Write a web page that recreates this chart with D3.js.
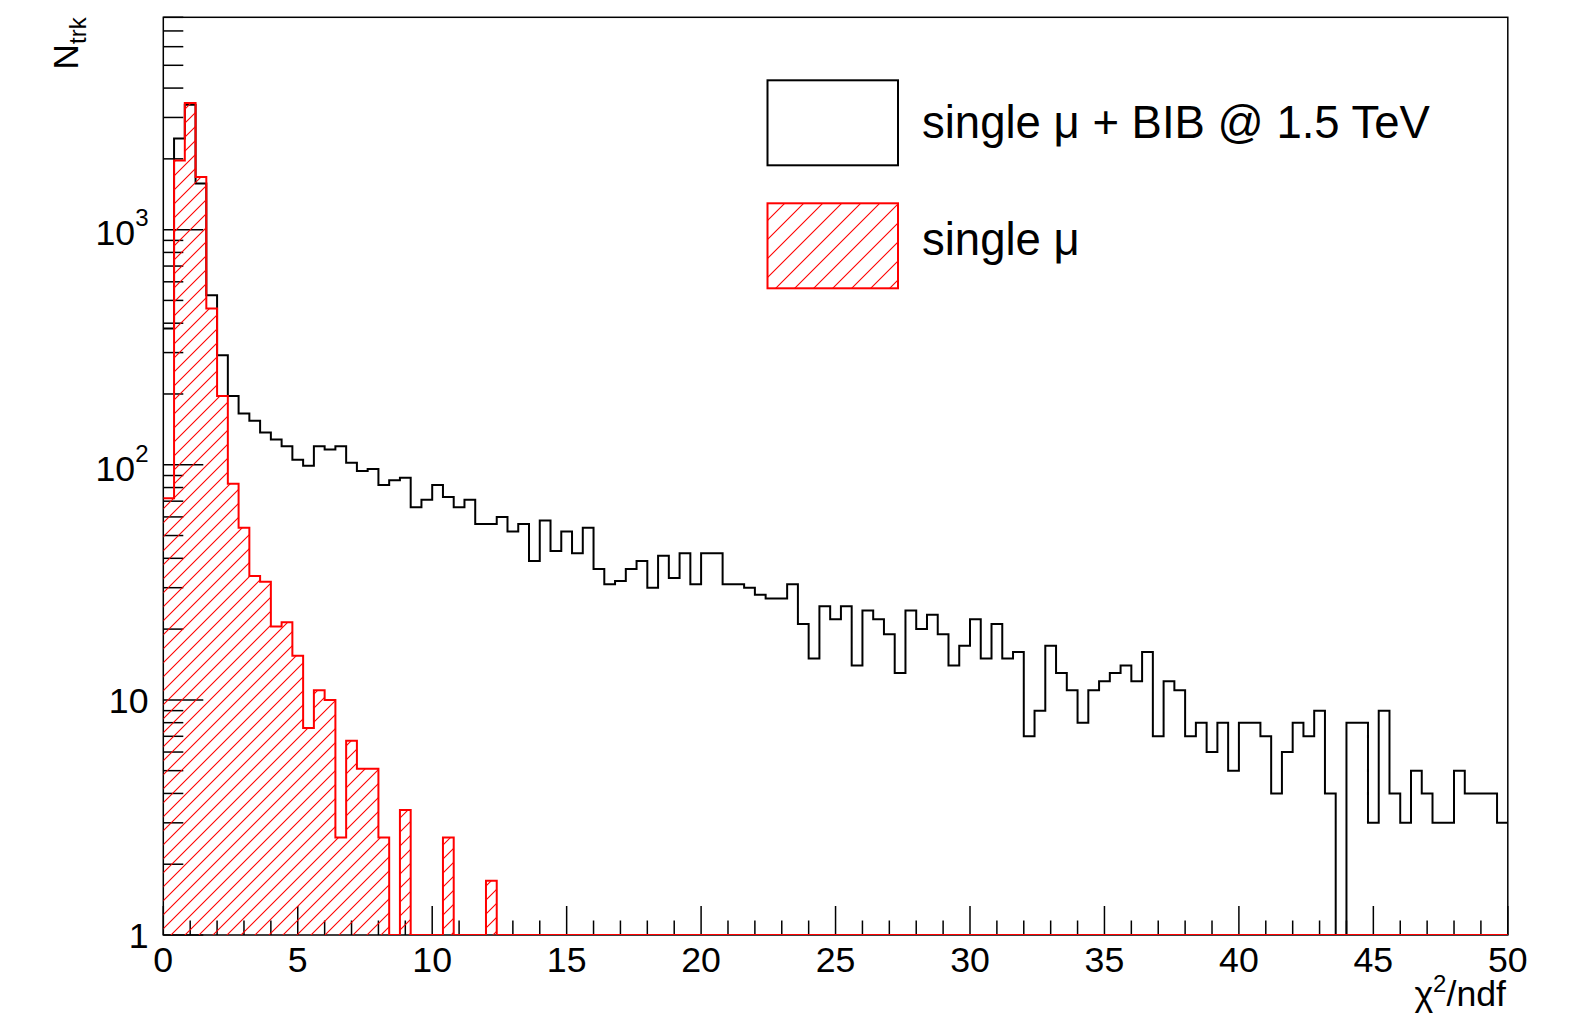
<!DOCTYPE html>
<html>
<head>
<meta charset="utf-8">
<script src="https://cdn.jsdelivr.net/npm/d3@7"></script>
<style>
  html, body { margin: 0; padding: 0; background: #fff; }
  svg { display: block; }
  text { font-family: "Liberation Sans", Arial, Helvetica, sans-serif; fill: #000; }
</style>
</head>
<body>
<svg id="chart" width="1573" height="1021"></svg>
<script>
// Histogram binning: 125 bins of 0.4 in chi2/ndf from 0 to 50
const xRange = [0, 50];
const binWidth = 0.4;
const yRange = [1, 8000];

// Track counts per bin, single muon + beam-induced background at 1.5 TeV
const bibCounts = [
  380, 2440, 3400, 1570, 526, 292, 196, 165, 154, 137,
  128, 120, 105, 99, 120, 116, 120, 102, 94, 96,
  82, 86, 88, 66, 71, 82, 73, 66, 71, 56,
  56, 60, 52, 56, 39, 58, 43, 52, 42, 54,
  36, 31, 32, 36, 39, 30, 41, 33, 42, 31,
  42, 42, 31, 31, 30, 28, 27, 27, 31, 21,
  15, 25, 22, 25, 14, 24, 22, 19, 13, 24,
  20, 23, 19, 14, 17, 22, 15, 21, 15, 16,
  7, 9, 17, 13, 11, 8, 11, 12, 13, 14,
  12, 16, 7, 12, 11, 7, 8, 6, 8, 5,
  8, 8, 7, 4, 6, 8, 7, 9, 4, 0,
  8, 8, 3, 9, 4, 3, 5, 4, 3, 3,
  5, 4, 4, 4, 3
];

// Track counts per bin, single muon only (scaled)
const muonCounts = [
  72, 1970, 3460, 1675, 462, 196, 83, 54, 33.6, 31.8,
  20.5, 21.4, 15.4, 7.6, 11.0, 10.0, 2.6, 6.7, 5.1, 5.1,
  2.6, 0, 3.4, 0, 0, 0, 2.6, 0, 0, 0,
  1.7, 0, 0, 0, 0, 0, 0, 0, 0, 0,
  0, 0, 0, 0, 0, 0, 0, 0, 0, 0,
  0, 0, 0, 0, 0, 0, 0, 0, 0, 0,
  0, 0, 0, 0, 0, 0, 0, 0, 0, 0,
  0, 0, 0, 0, 0, 0, 0, 0, 0, 0,
  0, 0, 0, 0, 0, 0, 0, 0, 0, 0,
  0, 0, 0, 0, 0, 0, 0, 0, 0, 0,
  0, 0, 0, 0, 0, 0, 0, 0, 0, 0,
  0, 0, 0, 0, 0, 0, 0, 0, 0, 0,
  0, 0, 0, 0, 0
];

// Axis ticks and labels
const xMajorTicks = [0, 5, 10, 15, 20, 25, 30, 35, 40, 45, 50];
const xTickLabels = ["0", "5", "10", "15", "20", "25", "30", "35", "40", "45", "50"];
const yMajorTicks = [1, 10, 100, 1000];
const yTickBase = ["1", "10", "10", "10"];
const yTickExp = ["", "", "2", "3"];

const legendLabels = ["single \u03bc + BIB @ 1.5 TeV", "single \u03bc"];
const xTitle = { main: "\u03c7", sup: "2", rest: "/ndf" };
const yTitle = { main: "N", sub: "trk" };

// ---------------------------------------------------------------
const frame = { left: 163.3, right: 1507.8, top: 17.3, bottom: 935 };
const svg = d3.select("#chart");

const x = d3.scaleLinear().domain(xRange).range([frame.left, frame.right]);
const y = d3.scaleLog().domain(yRange).range([frame.bottom, frame.top]);

const defs = svg.append("defs");
defs.append("clipPath").attr("id", "plotClip")
  .append("rect")
  .attr("x", frame.left).attr("y", frame.top)
  .attr("width", frame.right - frame.left)
  .attr("height", frame.bottom - frame.top);

function hatch(id, step) {
  const p = defs.append("pattern").attr("id", id)
    .attr("patternUnits", "userSpaceOnUse")
    .attr("width", step).attr("height", step);
  p.append("path")
    .attr("d", `M0,${step} L${step},0 M${-step / 2},${step / 2} L${step / 2},${-step / 2} M${step / 2},${step * 1.5} L${step * 1.5},${step / 2}`)
    .attr("stroke", "#ff0000").attr("stroke-width", 1.1).attr("fill", "none");
}
hatch("hatchPlot", 14);
hatch("hatchLegend", 19);

// Frame
svg.append("rect")
  .attr("x", frame.left).attr("y", frame.top)
  .attr("width", frame.right - frame.left)
  .attr("height", frame.bottom - frame.top)
  .attr("fill", "none").attr("stroke", "#000").attr("stroke-width", 1.5);

// X axis ticks (inside the frame)
const xTicksG = svg.append("g").attr("stroke", "#000").attr("stroke-width", 1.5);
d3.range(xRange[0], xRange[1] + 0.001, 1).forEach(v => {
  const major = v % 5 === 0;
  const len = major ? 29 : 14.5;
  xTicksG.append("line")
    .attr("x1", x(v)).attr("x2", x(v))
    .attr("y1", frame.bottom).attr("y2", frame.bottom - len);
});
svg.append("g").selectAll("text").data(xMajorTicks).join("text")
  .attr("x", d => x(d)).attr("y", 971.5)
  .attr("text-anchor", "middle")
  .attr("font-size", 35.7)
  .text((d, i) => xTickLabels[i]);

// Y axis ticks (log): decades long, 2..9 short
const yTicksG = svg.append("g").attr("stroke", "#000").attr("stroke-width", 1.5);
const yMinor = [];
[1, 10, 100, 1000].forEach(dec => {
  for (let m = 2; m <= 9; m++) {
    const v = dec * m;
    if (v <= yRange[1]) yMinor.push(v);
  }
});
yMajorTicks.forEach(v => {
  yTicksG.append("line")
    .attr("x1", frame.left).attr("x2", frame.left + 40)
    .attr("y1", y(v)).attr("y2", y(v));
});
yMinor.forEach(v => {
  yTicksG.append("line")
    .attr("x1", frame.left).attr("x2", frame.left + 20)
    .attr("y1", y(v)).attr("y2", y(v));
});
const yLab = svg.append("g").selectAll("text").data(yMajorTicks).join("text")
  .attr("x", 148.5)
  .attr("y", (d, i) => y(d) + 12.8 + (yTickExp[i] ? 3 : 0))
  .attr("text-anchor", "end")
  .attr("font-size", 35.7);
yLab.append("tspan").text((d, i) => yTickBase[i]);
yLab.append("tspan")
  .attr("font-size", 24)
  .attr("dy", (d, i) => yTickExp[i] ? -19 : 0)
  .text((d, i) => yTickExp[i]);

// Histogram paths
function stepLine(counts) {
  const yv = c => y(Math.max(c, yRange[0]));
  let d = `M${x(xRange[0])},${yv(counts[0])}`;
  counts.forEach((c, i) => {
    const xr = x(xRange[0] + (i + 1) * binWidth);
    d += `H${xr}`;
    if (i + 1 < counts.length) d += `V${yv(counts[i + 1])}`;
  });
  return d;
}
function stepArea(counts) {
  const x0 = x(xRange[0]);
  const x1 = x(xRange[0] + counts.length * binWidth);
  return `M${x0},${frame.bottom}V${y(Math.max(counts[0], yRange[0]))}` +
    stepLine(counts).replace(/^M[^H]*/, "") + `V${frame.bottom}H${x0}Z`;
}

const plot = svg.append("g").attr("clip-path", "url(#plotClip)");

// single mu + BIB: black outline
plot.append("path")
  .attr("d", stepLine(bibCounts))
  .attr("fill", "none").attr("stroke", "#000").attr("stroke-width", 2)
  .attr("stroke-linejoin", "miter");

// single mu: red hatched area with red outline
plot.append("path")
  .attr("d", stepArea(muonCounts))
  .attr("fill", "url(#hatchPlot)").attr("stroke", "none");
plot.append("path")
  .attr("d", stepLine(muonCounts))
  .attr("fill", "none").attr("stroke", "#ff0000").attr("stroke-width", 2)
  .attr("stroke-linejoin", "miter");

// Axis titles
const xt = svg.append("text")
  .attr("x", 1506).attr("y", 1006)
  .attr("text-anchor", "end").attr("font-size", 35.7);
xt.append("tspan").text(xTitle.main);
xt.append("tspan").attr("font-size", 24).attr("dy", -14).text(xTitle.sup);
xt.append("tspan").attr("dy", 14).text(xTitle.rest);

const yt = svg.append("text")
  .attr("transform", `translate(78,17.3) rotate(-90)`)
  .attr("text-anchor", "end").attr("font-size", 35.7);
yt.append("tspan").text(yTitle.main);
yt.append("tspan").attr("font-size", 24).attr("dy", 8).text(yTitle.sub);

// Legend
const legend = svg.append("g");
const boxX = 767.5, boxW = 130.5, boxH = 85;
legend.append("rect")
  .attr("x", boxX).attr("y", 80.3).attr("width", boxW).attr("height", boxH)
  .attr("fill", "#fff").attr("stroke", "#000").attr("stroke-width", 2);
legend.append("rect")
  .attr("x", boxX).attr("y", 203.3).attr("width", boxW).attr("height", boxH)
  .attr("fill", "url(#hatchLegend)").attr("stroke", "#ff0000").attr("stroke-width", 2);
legend.selectAll("text.lab").data(legendLabels).join("text")
  .attr("class", "lab")
  .attr("x", 922)
  .attr("y", (d, i) => i === 0 ? 137.5 : 254.5)
  .attr("font-size", 45.5)
  .text(d => d);
</script>
</body>
</html>
